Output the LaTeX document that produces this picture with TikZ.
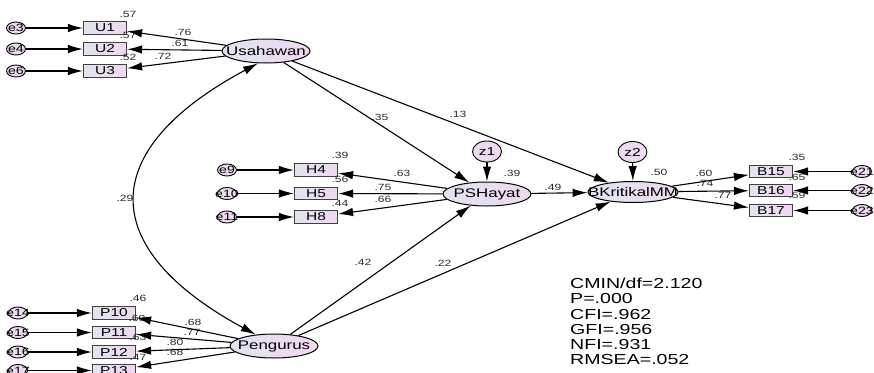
\documentclass[tikz,border=0pt]{standalone}
\usepackage{fontspec}
\setmainfont{Liberation Sans}[FakeStretch=1.35]
\usetikzlibrary{arrows.meta,shapes.geometric}
\definecolor{shL}{HTML}{E2E4F0}
\definecolor{shR}{HTML}{F0D8F0}
\definecolor{errc}{HTML}{EDDAF0}
\definecolor{txt}{HTML}{2A2A2A}
\tikzset{
  lat/.style={ellipse, draw=black, line width=1pt, inner sep=0pt,
    minimum width=88pt, minimum height=24pt, left color=shL, right color=shR,
    font=\fontsize{12.5}{13}\selectfont},
  obs/.style={rectangle, draw=black!75, line width=1.2pt, inner sep=0pt,
    minimum width=43pt, minimum height=12.5pt, left color=shL, right color=shR,
    font=\fontsize{11.5}{12}\selectfont},
  err/.style={ellipse, draw=black, line width=0.9pt, inner sep=0pt,
    minimum width=19pt, minimum height=12pt, fill=errc,
    font=\fontsize{10.5}{10}\selectfont},
  dist/.style={ellipse, draw=black, line width=0.9pt, inner sep=0pt,
    minimum width=29pt, minimum height=21pt, fill=errc,
    font=\fontsize{11.5}{11}\selectfont},
  arr/.style={-{Latex[length=15pt,width=8.5pt]}, line width=1.1pt},
  darr/.style={{Latex[length=15pt,width=8.5pt]}-{Latex[length=15pt,width=8.5pt]}, line width=1.1pt},
  coef/.style={inner sep=0pt, text=txt, font=\fontsize{9}{9}\selectfont},
  stats/.style={inner sep=0pt, align=left, anchor=north west,
    font=\fontsize{14.5}{15.2}\selectfont}
}
\newcommand{\zw}[1]{\makebox[0pt]{#1}}
\begin{document}
\begin{tikzpicture}[x=1pt,y=-1pt]
\useasboundingbox (0,0) rectangle (874,372);
% latent variables
\node[lat] (usa) at (266,51) {\zw{Usahawan}};
\node[lat] (psh) at (487,194) {\zw{PSHayat}};
\node[lat, minimum width=90pt, minimum height=21pt] (bk) at (633,192) {\zw{BKritikalMM}};
\node[lat] (pen) at (274,346) {\zw{Pengurus}};
\node[dist] (z1) at (487,151.5) {z1};
\node[dist] (z2) at (632.5,152) {z2};
% U indicators
\node[obs] (u1) at (105,28) {U1};
\node[obs] (u2) at (105,49) {U2};
\node[obs] (u3) at (105,71) {U3};
\node[err] (e3) at (16,28) {\zw{e3}};
\node[err] (e4) at (16,49) {\zw{e4}};
\node[err] (e6) at (16,71) {\zw{e6}};
% H indicators
\node[obs] (h4) at (316,170) {H4};
\node[obs] (h5) at (316,193.5) {H5};
\node[obs] (h8) at (316,217) {H8};
\node[err] (e9) at (227,170) {\zw{e9}};
\node[err] (e10) at (227,193.5) {\zw{e10}};
\node[err] (e11) at (227,217) {\zw{e11}};
% B indicators
\node[obs] (b15) at (771,171.5) {B15};
\node[obs] (b16) at (771,190.5) {B16};
\node[obs] (b17) at (771,210.5) {B17};
\node[err] (e21) at (862,171.5) {\zw{e21}};
\node[err] (e22) at (862,190.5) {\zw{e22}};
\node[err] (e23) at (862,210.5) {\zw{e23}};
% P indicators
\node[obs] (p10) at (114,313) {P10};
\node[obs] (p11) at (114,332.5) {P11};
\node[obs] (p12) at (114,352) {P12};
\node[obs] (p13) at (114,370.5) {P13};
\node[err] (e14) at (18,313) {\zw{e14}};
\node[err] (e15) at (18,332.5) {\zw{e15}};
\node[err] (e16) at (18,352) {\zw{e16}};
\node[err] (e17) at (18,370.5) {\zw{e17}};
% coefficients
\node[coef] (cu1a) at (128,14) {.57};
\node[coef] (cu1b) at (183,32) {.76};
\node[coef] (cu2a) at (128,35) {.57};
\node[coef] (cu2b) at (180,43) {.61};
\node[coef] (cu3a) at (128,57) {.52};
\node[coef] (cu3b) at (163,56) {.72};
\node[coef] (ch4a) at (340,155) {.39};
\node[coef] (ch4b) at (402,173) {.63};
\node[coef] (ch5a) at (340,179) {.56};
\node[coef] (ch5b) at (383,187) {.75};
\node[coef] (ch8a) at (340,203) {.44};
\node[coef] (ch8b) at (383,199) {.66};
\node[coef] (cpsh) at (512,173) {.39};
\node[coef] (cpb) at (553,187) {.49};
\node[coef] (cbk) at (659,172) {.50};
\node[coef] (cb15a) at (797,157) {.35};
\node[coef] (cb15b) at (704,173) {.60};
\node[coef] (cb16b) at (705,183) {.74};
\node[coef] (cb16a) at (797,177) {.65};
\node[coef] (cb17b) at (723,195) {.77};
\node[coef] (cb17a) at (797,195) {.59};
\node[coef] (cp10a) at (138,298) {.46};
\node[coef] (cp10b) at (193,322) {.68};
\node[coef] (cp11a) at (137,318) {.60};
\node[coef] (cp11b) at (192,332) {.77};
\node[coef] (cp12a) at (138,337) {.63};
\node[coef] (cp12b) at (175,342) {.80};
\node[coef] (cp13a) at (138,357) {.47};
\node[coef] (cp13b) at (175,352) {.68};
\node[coef] (cup) at (380,117) {.35};
\node[coef] (cub) at (458,114) {.13};
\node[coef] (cpp) at (363,262) {.42};
\node[coef] (cpbk) at (443,263) {.22};
\node[coef] (ccov) at (125,198) {.29};
% fit statistics
\node[stats] (fit) at (570,278) {CMIN/df=2.120\\P=.000\\CFI=.962\\GFI=.956\\NFI=.931\\RMSEA=.052};
% connectors
\foreach \e/\o in {e3/u1,e4/u2,e6/u3,e9/h4,e10/h5,e11/h8,e21/b15,e22/b16,e23/b17,e14/p10,e15/p11,e16/p12,e17/p13}
  \draw[arr] (\e) -- (\o);
\foreach \o in {u1,u2,u3} \draw[arr] (usa) -- (\o);
\foreach \o in {h4,h5,h8} \draw[arr] (psh) -- (\o);
\foreach \o in {b15,b16,b17} \draw[arr] (bk) -- (\o);
\foreach \o in {p10,p11,p12,p13} \draw[arr] (pen) -- (\o);
\draw[arr] (usa) -- (psh);
\draw[arr] (usa) -- (bk);
\draw[arr] (pen) -- (psh);
\draw[arr] (pen) -- (bk);
\draw[arr] (psh) -- (bk);
\draw[arr] (z1) -- (psh);
\draw[arr] (z2) -- (bk);
\draw[darr] (usa.237) .. controls (96,150) and (96,248) .. (pen.148);
\end{tikzpicture}
\end{document}
